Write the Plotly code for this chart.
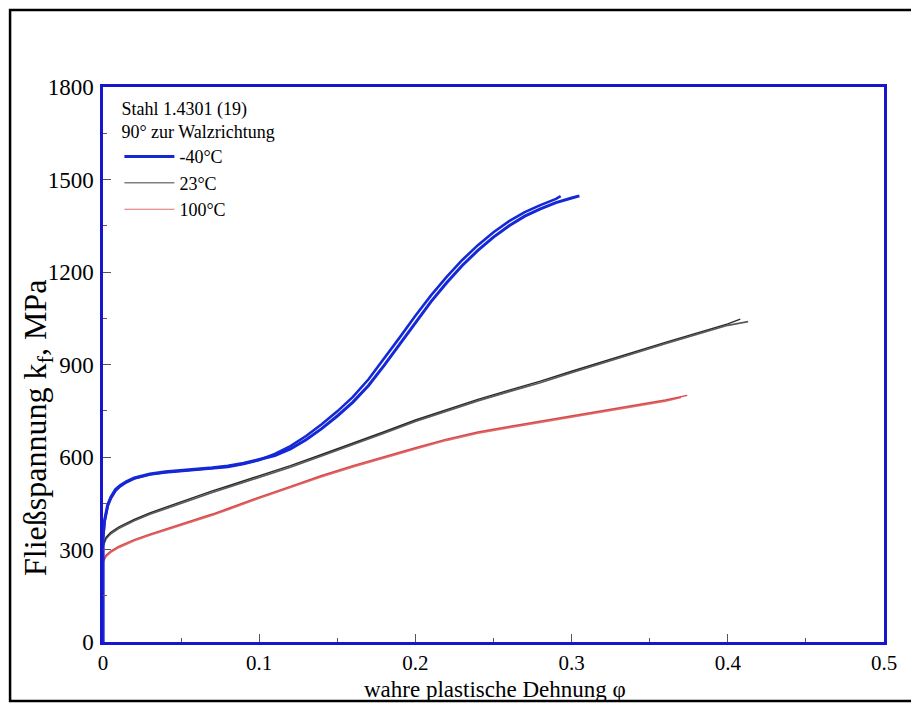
import plotly.graph_objects as go

# ---------------- data ----------------
# -40 °C, sample A (upper path)
blue_a_x = [0, 0, 0.001, 0.003, 0.005, 0.008, 0.011, 0.015, 0.02, 0.03, 0.04, 0.05, 0.06, 0.07,
            0.08, 0.09, 0.1, 0.11, 0.12, 0.13, 0.14, 0.15, 0.16, 0.17, 0.18, 0.19, 0.2, 0.21,
            0.22, 0.23, 0.24, 0.25, 0.26, 0.27, 0.28, 0.29, 0.293]
blue_a_y = [0, 330, 390, 440, 465, 490, 505, 518, 530, 543, 550, 554, 558, 562,
            568, 577, 590, 610, 635, 668, 706, 748, 795, 852, 918, 988, 1058, 1124,
            1184, 1239, 1287, 1329, 1365, 1394, 1417, 1437, 1446]
# -40 °C, sample B (lower path)
blue_b_x = [0, 0, 0.001, 0.003, 0.005, 0.008, 0.011, 0.015, 0.02, 0.03, 0.04, 0.05, 0.06, 0.07,
            0.08, 0.09, 0.1, 0.11, 0.12, 0.13, 0.14, 0.15, 0.16, 0.17, 0.18, 0.19, 0.2, 0.21,
            0.22, 0.23, 0.24, 0.25, 0.26, 0.27, 0.28, 0.29, 0.3, 0.305]
blue_b_y = [0, 340, 395, 445, 470, 495, 508, 520, 532, 545, 552, 556, 560, 565,
            571, 580, 592, 605, 626, 656, 692, 733, 778, 832, 897, 967, 1037, 1104,
            1165, 1221, 1270, 1313, 1350, 1381, 1405, 1425, 1440, 1447]

# 23 °C, two samples
black_a_x = [0, 0, 0.002, 0.005, 0.01, 0.02, 0.03, 0.04, 0.05, 0.06, 0.07, 0.08, 0.09, 0.1,
             0.11, 0.12, 0.14, 0.16, 0.18, 0.2, 0.22, 0.24, 0.26, 0.28, 0.3, 0.32, 0.34,
             0.36, 0.38, 0.4, 0.408]
black_a_y = [0, 315, 340, 356, 373, 398, 419, 437, 455, 472, 490, 506, 522, 538,
             555, 572, 608, 644, 682, 720, 754, 787, 817, 846, 878, 910, 942,
             972, 1002, 1032, 1047]
black_b_x = [0, 0, 0.002, 0.005, 0.01, 0.02, 0.03, 0.04, 0.05, 0.06, 0.07, 0.08, 0.09, 0.1,
             0.11, 0.12, 0.14, 0.16, 0.18, 0.2, 0.22, 0.24, 0.26, 0.28, 0.3, 0.32, 0.34,
             0.36, 0.38, 0.4, 0.413]
black_b_y = [0, 309, 335, 351, 368, 393, 414, 432, 450, 467, 485, 501, 517, 533,
             550, 567, 603, 639, 677, 715, 749, 782, 812, 841, 873, 905, 937,
             967, 997, 1027, 1039]

# 100 °C, two samples
red_a_x = [0, 0, 0.002, 0.005, 0.01, 0.02, 0.03, 0.04, 0.05, 0.06, 0.07, 0.08, 0.09, 0.1,
           0.12, 0.14, 0.16, 0.18, 0.2, 0.22, 0.24, 0.26, 0.28, 0.3, 0.32, 0.34, 0.36, 0.374]
red_a_y = [0, 262, 282, 295, 310, 332, 350, 366, 382, 398, 415, 433, 452, 470,
           505, 540, 572, 602, 630, 658, 681, 699, 716, 733, 750, 767, 785, 800]
red_b_x = [0, 0, 0.002, 0.005, 0.01, 0.02, 0.03, 0.04, 0.05, 0.06, 0.07, 0.08, 0.09, 0.1,
           0.12, 0.14, 0.16, 0.18, 0.2, 0.22, 0.24, 0.26, 0.28, 0.3, 0.32, 0.34, 0.36, 0.37]
red_b_y = [0, 258, 278, 291, 306, 328, 346, 362, 378, 394, 411, 429, 448, 466,
           501, 536, 568, 598, 626, 654, 677, 695, 712, 729, 746, 763, 781, 793]

legend_title = "Stahl 1.4301 (19)<br>90° zur Walzrichtung"
legend_names = ["-40°C", "23°C", "100°C"]
x_title = "wahre plastische Dehnung φ"
y_title = "Fließspannung k<sub>f</sub>, MPa"
x_ticks = [0, 0.1, 0.2, 0.3, 0.4, 0.5]
y_ticks = [0, 300, 600, 900, 1200, 1500, 1800]

# ---------------- styles ----------------
BLUE = "#1428d6"
AXIS_BLUE = "#1616d0"
FONT = "Liberation Serif, Times New Roman, serif"

fig = go.Figure()

def curve(x, y, color, width):
    fig.add_trace(go.Scatter(x=x, y=y, mode="lines", showlegend=False,
                             line=dict(color=color, width=width), hoverinfo="skip"))

curve(red_b_x, red_b_y, "#e06a6a", 1.6)
curve(red_a_x, red_a_y, "#d84848", 1.4)
curve(black_b_x, black_b_y, "#5a5a5a", 1.6)
curve(black_a_x, black_a_y, "#2a2a2a", 1.4)
curve(blue_b_x, blue_b_y, BLUE, 3)
curve(blue_a_x, blue_a_y, BLUE, 2.6)

# legend-only entries
leg_styles = [(BLUE, 3), ("#808080", 1.5), ("#e07070", 1.2)]
for name, (c, w) in zip(legend_names, leg_styles):
    fig.add_trace(go.Scatter(x=[None], y=[None], mode="lines", name=name,
                             line=dict(color=c, width=w)))

fig.update_layout(
    width=911, height=696,
    margin=dict(l=95, r=35, t=79, b=62, autoexpand=False),
    paper_bgcolor="white", plot_bgcolor="white",
    font=dict(family=FONT, color="black", size=18),
    showlegend=True,
    legend=dict(x=0.021, y=0.992, xanchor="left", yanchor="top",
                bgcolor="rgba(0,0,0,0)", borderwidth=0,
                title=dict(text=legend_title, font=dict(size=18, family=FONT)),
                font=dict(size=18, family=FONT), itemwidth=50,
                tracegroupgap=0),
    shapes=[dict(type="rect", xref="paper", yref="paper",
                 x0=-0.119, x1=1.08, y0=-0.1063, y1=1.1387,
                 line=dict(color="black", width=2.5), layer="below")],
    annotations=[
        dict(text=y_title, xref="paper", yref="paper",
             x=-0.0832, y=0.3856, xanchor="center", yanchor="middle",
             textangle=-90, showarrow=False,
             font=dict(size=32, family=FONT, color="black")),
        dict(text=x_title, xref="paper", yref="paper",
             x=0.502, y=-0.0847, xanchor="center", yanchor="middle",
             showarrow=False,
             font=dict(size=23, family=FONT, color="black")),
    ],
)

fig.update_xaxes(range=[0, 0.5], tickvals=x_ticks, ticktext=[str(v) for v in x_ticks],
                 showgrid=False, zeroline=False, automargin=False,
                 showline=True, linecolor=AXIS_BLUE, linewidth=2.5, mirror=True,
                 ticks="inside", ticklen=8, tickwidth=1, tickcolor="#555555",
                 minor=dict(ticks="inside", dtick=0.05, tick0=0, ticklen=4,
                            tickcolor="#884466", tickwidth=1, showgrid=False),
                 tickfont=dict(size=21, family=FONT), ticklabelstandoff=0)
fig.update_yaxes(range=[0, 1800], tickvals=y_ticks, ticktext=[str(v) for v in y_ticks],
                 showgrid=False, zeroline=False, automargin=False,
                 showline=True, linecolor=AXIS_BLUE, linewidth=2.5, mirror=True,
                 ticks="inside", ticklen=8, tickwidth=1, tickcolor="#555555",
                 minor=dict(ticks="inside", dtick=150, tick0=0, ticklen=4,
                            tickcolor="#884466", tickwidth=1, showgrid=False),
                 tickfont=dict(size=23, family=FONT), ticklabelstandoff=2)

fig.write_html("out.html")
